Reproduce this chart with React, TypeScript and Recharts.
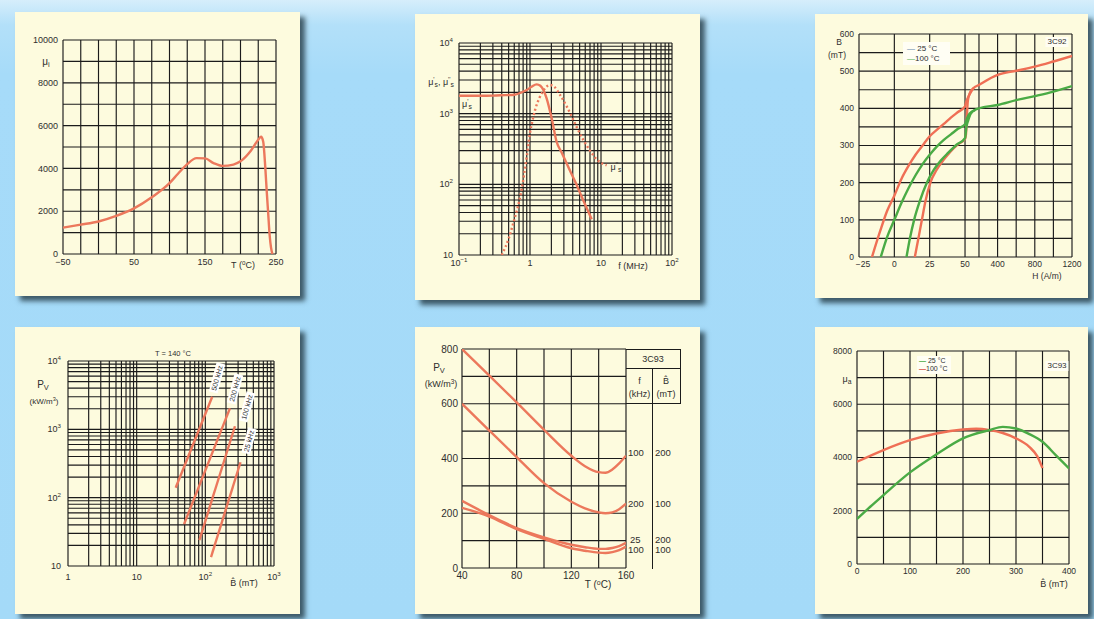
import React from 'react'
import { LineChart, Line, XAxis, YAxis, CartesianGrid } from 'recharts'

const INK = '#2e2e2e'
const GRID = '#1b1b1b'
const ORANGE = '#ec785c'
const RED = '#ef6f55'
const GREEN = '#4aab45'
const CREAM = '#fdfbde'
const FONT = '"Liberation Sans", Arial, Helvetica, sans-serif'
const B_HAT = 'B\u0302'

// initial permeability vs temperature
const p1Temp = [-50, -25, 0, 25, 50, 75, 100, 112, 125, 138, 150, 162, 175, 190, 200, 214, 225, 229, 232, 235, 237, 239, 241, 243, 245]
const p1Mu = [1230, 1370, 1520, 1780, 2130, 2650, 3310, 3750, 4200, 4480, 4470, 4250, 4120, 4180, 4330, 4800, 5340, 5480, 5250, 4000, 2900, 1900, 900, 300, 0]

// complex permeability vs frequency (MHz)
const p2FreqReal = [0.1, 0.2, 0.3, 0.45, 0.6, 0.76, 0.9, 1.05, 1.24, 1.4, 1.55, 1.71, 2.02, 2.37, 2.8, 3.3, 4.5, 5.6, 7.4]
const p2MuReal = [1790, 1790, 1800, 1830, 1850, 2000, 2160, 2400, 2600, 2480, 2150, 1660, 860, 400, 280, 195, 100, 60, 32]
const p2FreqImag = [0.4, 0.5, 0.58, 0.76, 0.9, 1.0, 1.1, 1.18, 1.35, 1.49, 1.7, 1.9, 2.2, 2.6, 3.3, 4.5, 5.6, 7, 8.7, 12]
const p2MuImag = [10, 17, 28, 83, 245, 535, 850, 1130, 1650, 2000, 2400, 2550, 2400, 1900, 1260, 660, 430, 300, 225, 186]

// B-H loops, H in A/m, B in mT
const p3RedLeftH = [-15.8, -10, -5, 0, 5, 10, 15, 20, 25, 30, 35, 40, 45, 50, 60, 100, 140, 200, 400, 600, 800, 1000, 1200]
const p3RedLeftB = [0, 70, 125, 165, 210, 245, 275, 300, 325, 342, 358, 375, 390, 405, 415, 438, 454, 463, 490, 501, 512, 526, 541]
const p3RedRightH = [14.5, 17, 19.5, 22, 25.5, 30, 35, 40, 45, 50, 60, 70, 80, 100, 140]
const p3RedRightB = [0, 50, 100, 150, 200, 235, 262, 285, 303, 318, 330, 380, 420, 440, 454]
const p3GreenLeftH = [-9.6, -5, 0, 5, 10, 15, 20, 25, 30, 35, 40, 45, 50, 75, 100, 150, 200, 400, 600, 800, 1000, 1200]
const p3GreenLeftB = [0, 55, 100, 145, 185, 220, 250, 275, 297, 315, 330, 345, 357, 375, 386, 395, 400, 409, 422, 433, 445, 460]
const p3GreenRightH = [8.6, 11, 14, 18, 23, 28, 33, 38, 44, 50, 65, 85, 110, 156]
const p3GreenRightB = [0, 50, 100, 150, 200, 235, 260, 280, 302, 320, 350, 368, 385, 395]
const p3HGrid = [-25, 0, 25, 50, 200, 400, 600, 800, 1000, 1200]
const p3HLabels = [-25, 0, 25, 50, 400, 800, 1200]

// core loss vs peak flux density at 140 °C
const p4Flux500 = [37, 126]
const p4Loss500 = [140, 3000]
const p4Flux200 = [49, 228]
const p4Loss200 = [41, 2030]
const p4Flux100 = [82, 270]
const p4Loss100 = [24, 1110]
const p4Flux25 = [121, 325]
const p4Loss25 = [13.5, 330]

// core loss vs temperature
const p5Temp = [40, 60, 80, 100, 120, 130, 140, 145, 150, 155, 160]
const p5Loss100k200 = [800, 703, 605, 505, 410, 372, 350, 348, 360, 382, 410]
const p5Loss200k100 = [600, 502, 405, 310, 242, 218, 203, 200, 203, 215, 235]
const p5Loss25k200 = [245, 193, 146, 112, 85, 76, 70, 70, 73, 80, 92]
const p5Loss100k100 = [220, 188, 142, 106, 72, 63, 56, 55, 58, 65, 78]

// amplitude permeability vs peak flux density
const p6Flux25 = [0, 25, 50, 100, 150, 200, 250, 275, 300, 325, 350, 375, 400]
const p6Mu25 = [1690, 2150, 2590, 3440, 4120, 4720, 5030, 5150, 5090, 4880, 4590, 4090, 3590]
const p6Flux100 = [0, 50, 100, 150, 200, 225, 250, 275, 300, 325, 340, 350]
const p6Mu100 = [3840, 4280, 4650, 4900, 5050, 5080, 5030, 4920, 4720, 4400, 4050, 3600]

type Pt = { x: number; y: number }
type Box = { l: number; t: number; r: number; b: number }
type Fmt = (v: number) => string | [string, string] | null

const pairs = (xs: number[], ys: number[]): Pt[] => xs.map((x, i) => ({ x, y: ys[i] }))

const range = (a: number, b: number, step: number) => {
  const out: number[] = []
  for (let v = a; v <= b + 1e-9; v += step) out.push(+v.toFixed(6))
  return out
}

const logGrid = (lo: number, hi: number) => {
  const out: number[] = []
  for (let d = lo; d < hi * 0.999; d *= 10) {
    for (let m = 1; m < 10; m++) out.push(+(d * m).toPrecision(6))
  }
  out.push(hi)
  return out
}

const isDecade = (v: number) => Math.abs(Math.log10(v) - Math.round(Math.log10(v))) < 1e-6

const decadeLabel: Fmt = (v) => {
  if (!isDecade(v)) return null
  const e = Math.round(Math.log10(v))
  if (e === 0) return '1'
  if (e === 1) return '10'
  return ['10', e < 0 ? '\u2212' + -e : String(e)]
}

const everyLabel = (step: number): Fmt => (v) =>
  Math.abs(v / step - Math.round(v / step)) < 1e-6 ? (v < 0 ? '\u2212' + -v : String(v)) : null

// broken H axis: linear up to 50 A/m, compressed above
const H_SPLIT = 50
const H_K = 0.0658
const hToU = (h: number) => (h <= H_SPLIT ? h : H_SPLIT + (h - H_SPLIT) * H_K)
const p3Label: Fmt = (u) => {
  const h = p3HGrid.find((g) => Math.abs(hToU(g) - u) < 1e-6)
  if (h === undefined || !p3HLabels.includes(h)) return null
  return h < 0 ? '\u2212' + -h : String(h)
}

function Tick(props: any) {
  const { x, y, payload, side, fmt, fs, shift } = props
  const lab = fmt(payload.value)
  if (lab == null) return null
  const [base, sup] = Array.isArray(lab) ? lab : [lab, null]
  const dx = shift ? shift(payload.value) : 0
  return (
    <text
      x={x + dx}
      y={y}
      textAnchor={side === 'left' ? 'end' : 'middle'}
      dy={side === 'left' ? '0.35em' : '0.71em'}
      fontSize={fs}
      fill={INK}
      fontFamily={FONT}
    >
      {base}
      {sup != null && (
        <tspan dy={-fs * 0.45} fontSize={fs * 0.68}>
          {sup}
        </tspan>
      )}
    </text>
  )
}

interface PlotProps {
  frame: Box
  plot: Box
  xDomain: [number, number]
  yDomain: [number, number]
  xTicks: number[]
  yTicks: number[]
  xFmt: Fmt
  yFmt: Fmt
  xLog?: boolean
  yLog?: boolean
  xShift?: (v: number) => number
  fs: number
  xGap: number
  yGap: number
  children: React.ReactNode
}

function Panel({ frame, plot, xDomain, yDomain, xTicks, yTicks, xFmt, yFmt, xLog, yLog, xShift, fs, xGap, yGap, children }: PlotProps) {
  const w = frame.r - frame.l
  const h = frame.b - frame.t
  return (
    <div
      style={{
        position: 'absolute',
        left: frame.l,
        top: frame.t,
        width: w,
        height: h,
        background: CREAM,
        boxShadow: '5px 5px 5px rgba(25,45,55,0.75)',
      }}
    >
      <LineChart width={w} height={h} margin={{ top: plot.t - frame.t, right: frame.r - plot.r, left: 0, bottom: 0 }}>
        <CartesianGrid stroke={GRID} strokeWidth={1.15} />
        <XAxis
          type="number"
          dataKey="x"
          domain={xDomain}
          scale={xLog ? 'log' : 'linear'}
          ticks={xTicks}
          interval={0}
          allowDataOverflow
          height={frame.b - plot.b}
          tickSize={0}
          tickMargin={xGap}
          axisLine={false}
          tickLine={false}
          tick={(p: any) => <Tick {...p} side="bottom" fmt={xFmt} fs={fs} shift={xShift} />}
        />
        <YAxis
          type="number"
          domain={yDomain}
          scale={yLog ? 'log' : 'linear'}
          ticks={yTicks}
          interval={0}
          allowDataOverflow
          width={plot.l - frame.l}
          tickSize={0}
          tickMargin={yGap}
          axisLine={false}
          tickLine={false}
          tick={(p: any) => <Tick {...p} side="left" fmt={yFmt} fs={fs} />}
        />
        {children}
      </LineChart>
    </div>
  )
}

const curve = (pts: Pt[], color: string, extra: any = {}) => (
  <Line
    data={pts}
    dataKey="y"
    type="monotone"
    stroke={color}
    strokeWidth={2.4}
    dot={false}
    activeDot={false}
    isAnimationActive={false}
    {...extra}
  />
)

function Txt({ x, y, size = 9, anchor = 'middle', children, style }: any) {
  const tx = anchor === 'middle' ? '-50%' : anchor === 'end' ? '-100%' : '0'
  return (
    <div
      style={{
        position: 'absolute',
        left: x,
        top: y,
        transform: `translate(${tx}, -50%)`,
        fontSize: size,
        fontFamily: FONT,
        color: INK,
        whiteSpace: 'nowrap',
        lineHeight: 1,
        ...style,
      }}
    >
      {children}
    </div>
  )
}

const Sub = ({ children }: any) => <span style={{ fontSize: '0.75em', position: 'relative', top: '0.3em' }}>{children}</span>
const Sup = ({ children }: any) => <span style={{ fontSize: '0.7em', position: 'relative', top: '-0.45em' }}>{children}</span>

const Rule = ({ x, y, w, h }: any) => (
  <div style={{ position: 'absolute', left: x, top: y, width: w, height: h, background: GRID }} />
)

function FreqTag({ x, y, children }: any) {
  return (
    <div
      style={{
        position: 'absolute',
        left: x,
        top: y,
        transform: 'translate(-50%, -50%) rotate(-75deg)',
        background: '#ffffff',
        fontSize: 7,
        fontFamily: FONT,
        color: INK,
        padding: '1px 2px',
        whiteSpace: 'nowrap',
        lineHeight: 1,
      }}
    >
      {children}
    </div>
  )
}

export default function App() {
  const f1 = { l: 15, t: 12, r: 300, b: 296 }
  const f2 = { l: 415, t: 14, r: 700, b: 300 }
  const f3 = { l: 815, t: 14, r: 1088, b: 298 }
  const f4 = { l: 15, t: 327, r: 300, b: 614 }
  const f5 = { l: 415, t: 327, r: 700, b: 614 }
  const f6 = { l: 815, t: 327, r: 1088, b: 614 }

  return (
    <div
      style={{
        position: 'absolute',
        left: 0,
        top: 0,
        width: 1094,
        height: 619,
        overflow: 'hidden',
        background: 'linear-gradient(to bottom, #d6eefb 0%, #b3e0f9 4%, #a6dbf9 12%, #a4daf8 100%)',
        fontFamily: FONT,
      }}
    >
      <Panel
        frame={f1}
        plot={{ l: 63, t: 40, r: 276, b: 254 }}
        xDomain={[-50, 250]}
        yDomain={[0, 10000]}
        xTicks={range(-50, 250, 25)}
        yTicks={range(0, 10000, 1000)}
        xFmt={(v) => ([-50, 50, 150, 250].includes(v) ? (v < 0 ? '\u2212' + -v : String(v)) : null)}
        yFmt={everyLabel(2000)}
        fs={9}
        xGap={5}
        yGap={5}
      >
        {curve(pairs(p1Temp, p1Mu), ORANGE)}
      </Panel>

      <Panel
        frame={f2}
        plot={{ l: 459, t: 43, r: 672, b: 255 }}
        xDomain={[0.1, 100]}
        yDomain={[10, 10000]}
        xTicks={logGrid(0.1, 100)}
        yTicks={logGrid(10, 10000)}
        xFmt={decadeLabel}
        yFmt={decadeLabel}
        xLog
        yLog
        fs={9}
        xGap={5}
        yGap={6}
      >
        {curve(pairs(p2FreqImag, p2MuImag), ORANGE, { strokeDasharray: '2 2.5' })}
        {curve(pairs(p2FreqReal, p2MuReal), ORANGE)}
      </Panel>

      <Panel
        frame={f3}
        plot={{ l: 859, t: 34, r: 1072, b: 257 }}
        xDomain={[hToU(-25), hToU(1200)]}
        yDomain={[0, 600]}
        xTicks={p3HGrid.map(hToU)}
        yTicks={range(0, 600, 50)}
        xFmt={p3Label}
        yFmt={everyLabel(100)}
        xShift={(u) => (u === hToU(-25) ? 4 : 0)}
        fs={8.5}
        xGap={3.5}
        yGap={5}
      >
        {curve(pairs(p3RedLeftH.map(hToU), p3RedLeftB), RED)}
        {curve(pairs(p3RedRightH.map(hToU), p3RedRightB), RED)}
        {curve(pairs(p3GreenLeftH.map(hToU), p3GreenLeftB), GREEN)}
        {curve(pairs(p3GreenRightH.map(hToU), p3GreenRightB), GREEN)}
      </Panel>

      <Panel
        frame={f4}
        plot={{ l: 68, t: 361, r: 274, b: 566 }}
        xDomain={[1, 1000]}
        yDomain={[10, 10000]}
        xTicks={logGrid(1, 1000)}
        yTicks={logGrid(10, 10000)}
        xFmt={decadeLabel}
        yFmt={decadeLabel}
        xLog
        yLog
        fs={9}
        xGap={8}
        yGap={7}
      >
        {curve(pairs(p4Flux500, p4Loss500), ORANGE, { type: 'linear' })}
        {curve(pairs(p4Flux200, p4Loss200), ORANGE, { type: 'linear' })}
        {curve(pairs(p4Flux100, p4Loss100), ORANGE, { type: 'linear' })}
        {curve(pairs(p4Flux25, p4Loss25), ORANGE, { type: 'linear' })}
      </Panel>

      <Panel
        frame={f5}
        plot={{ l: 462, t: 349, r: 626, b: 568 }}
        xDomain={[40, 160]}
        yDomain={[0, 800]}
        xTicks={range(40, 160, 20)}
        yTicks={range(0, 800, 100)}
        xFmt={everyLabel(40)}
        yFmt={everyLabel(200)}
        fs={10}
        xGap={4}
        yGap={4}
      >
        {curve(pairs(p5Temp, p5Loss100k200), ORANGE)}
        {curve(pairs(p5Temp, p5Loss200k100), ORANGE)}
        {curve(pairs(p5Temp, p5Loss25k200), ORANGE)}
        {curve(pairs(p5Temp, p5Loss100k100), ORANGE)}
      </Panel>

      <Panel
        frame={f6}
        plot={{ l: 857, t: 351, r: 1069, b: 564 }}
        xDomain={[0, 400]}
        yDomain={[0, 8000]}
        xTicks={range(0, 400, 50)}
        yTicks={range(0, 8000, 1000)}
        xFmt={everyLabel(100)}
        yFmt={everyLabel(2000)}
        fs={8.5}
        xGap={4}
        yGap={5}
      >
        {curve(pairs(p6Flux100, p6Mu100), RED)}
        {curve(pairs(p6Flux25, p6Mu25), GREEN)}
      </Panel>

      {/* panel 1 titles */}
      <Txt x={46} y={62} size={10}>μ<Sub>i</Sub></Txt>
      <Txt x={243} y={265} size={9}>T (<Sup>o</Sup>C)</Txt>

      {/* panel 2 titles */}
      <Txt x={441} y={82} size={9}>μ<Sup>'</Sup><Sub>s</Sub>, μ<Sup>''</Sup><Sub>s</Sub></Txt>
      <Txt x={467} y={104} size={9}>μ<Sup>'</Sup><Sub>s</Sub></Txt>
      <Txt x={616} y={167} size={9}>μ<Sup>''</Sup><Sub>s</Sub></Txt>
      <Txt x={633} y={266} size={9}>f (MHz)</Txt>

      {/* panel 3 titles and legend */}
      <Txt x={839} y={42} size={8.5}>B</Txt>
      <Txt x={837} y={55} size={8.5}>(mT)</Txt>
      <Txt x={1047} y={276} size={8.5}>H (A/m)</Txt>
      <div
        style={{
          position: 'absolute',
          left: 903,
          top: 42,
          width: 47,
          height: 23,
          background: '#fffef4',
          fontSize: 8,
          lineHeight: '10px',
          color: INK,
          padding: '2px 0 0 4px',
          boxSizing: 'border-box',
        }}
      >
        <div><span style={{ color: '#5b7ea8' }}>—</span> 25 °C</div>
        <div><span style={{ color: GREEN }}>—</span>100 °C</div>
      </div>
      <Txt x={1057} y={42} size={8} style={{ background: '#fffef4', padding: '1px 2px' }}>3C92</Txt>

      {/* panel 4 titles and curve tags */}
      <Txt x={173} y={354} size={7.5}>T = 140 °C</Txt>
      <Txt x={43} y={385} size={10}>P<Sub>V</Sub></Txt>
      <Txt x={44} y={402} size={8}>(kW/m<Sup>3</Sup>)</Txt>
      <Txt x={244} y={583} size={9}>{B_HAT} (mT)</Txt>
      <FreqTag x={217} y={378}>500 kHz</FreqTag>
      <FreqTag x={235} y={389}>200 kHz</FreqTag>
      <FreqTag x={247} y={407}>100 kHz</FreqTag>
      <FreqTag x={249} y={441}>25 kHz</FreqTag>

      {/* panel 5 titles and table */}
      <Txt x={439} y={368} size={10}>P<Sub>V</Sub></Txt>
      <Txt x={441} y={384} size={9}>(kW/m<Sup>3</Sup>)</Txt>
      <Txt x={598} y={585} size={10}>T (<Sup>o</Sup>C)</Txt>
      <Rule x={626} y={348.5} w={54.5} h={1.2} />
      <Rule x={626} y={368} w={54.5} h={1.2} />
      <Rule x={626} y={403} w={54.5} h={1.2} />
      <Rule x={652} y={368} w={1.2} h={200.5} />
      <Rule x={679.5} y={348.5} w={1.2} h={55.5} />
      <Txt x={653} y={359} size={9}>3C93</Txt>
      <Txt x={639.5} y={381} size={9}>f</Txt>
      <Txt x={639.5} y={394} size={9}>(kHz)</Txt>
      <Txt x={666} y={381} size={9}>{B_HAT}</Txt>
      <Txt x={666} y={394} size={9}>(mT)</Txt>
      <Txt x={628} y={453} size={9.5} anchor="start">100</Txt>
      <Txt x={655} y={453} size={9.5} anchor="start">200</Txt>
      <Txt x={628} y={504} size={9.5} anchor="start">200</Txt>
      <Txt x={655} y={504} size={9.5} anchor="start">100</Txt>
      <Txt x={630} y={540} size={9.5} anchor="start">25</Txt>
      <Txt x={655} y={540} size={9.5} anchor="start">200</Txt>
      <Txt x={628} y={550} size={9.5} anchor="start">100</Txt>
      <Txt x={655} y={550} size={9.5} anchor="start">100</Txt>

      {/* panel 6 titles and legend */}
      <Txt x={847} y={379} size={9}>μ<Sub>a</Sub></Txt>
      <Txt x={1054} y={584} size={9}>{B_HAT} (mT)</Txt>
      <div
        style={{
          position: 'absolute',
          left: 917,
          top: 356,
          width: 34,
          height: 18,
          background: '#fffef4',
          fontSize: 7,
          lineHeight: '8px',
          color: INK,
          padding: '1px 0 0 2px',
          boxSizing: 'border-box',
        }}
      >
        <div><span style={{ color: GREEN, fontWeight: 'bold' }}>—</span> 25 °C</div>
        <div><span style={{ color: '#d8503f', fontWeight: 'bold' }}>—</span>100 °C</div>
      </div>
      <Txt x={1057} y={366} size={8} style={{ background: '#fffef4', padding: '1px 2px' }}>3C93</Txt>
    </div>
  )
}
